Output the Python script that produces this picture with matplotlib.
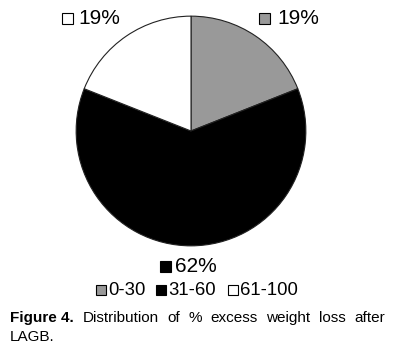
import matplotlib
matplotlib.use("Agg")
import matplotlib.pyplot as plt
from matplotlib.patches import Rectangle

categories = ["0-30", "31-60", "61-100"]
values = [19, 62, 19]
colors = ["#999999", "#000000", "#ffffff"]
pct_labels = ["19%", "62%", "19%"]
caption_line1 = ["Figure 4.", "Distribution", "of", "%", "excess", "weight", "loss", "after"]
caption_line2 = "LAGB."

W, H = 397, 354
fig = plt.figure(figsize=(W / 100, H / 100), dpi=100)
fig.patch.set_facecolor("white")

cx, cy, r = 191, 131, 116
ax = fig.add_axes([(cx - r) / W, (H - cy - r) / H, 2 * r / W, 2 * r / H])
ax.pie(values, colors=colors, startangle=90, counterclock=False,
       wedgeprops=dict(edgecolor="#222222", linewidth=0.8))
ax.set_xlim(-1.01, 1.01)
ax.set_ylim(-1.01, 1.01)
ax.set_aspect("equal")
ax.axis("off")

ov = fig.add_axes([0, 0, 1, 1], facecolor="none")
ov.set_xlim(0, W)
ov.set_ylim(H, 0)
ov.axis("off")

font = "Liberation Sans"

def sq(x, y, s, color):
    ov.add_patch(Rectangle((x, y), s, s, facecolor=color, edgecolor="black", linewidth=0.8))

# data labels
label_pos = [(259, 13, 277), (160, 261, 175), (62, 13, 78)]
for (sx, sy, tx), c, lab in zip(label_pos, colors, pct_labels):
    sq(sx, sy, 11, c)
    ov.text(tx, sy + 5.5, lab, fontsize=15, family=font, va="center", ha="left")

# legend
leg_pos = [(96, 108), (156, 168), (228, 240)]
for (sx, tx), c, lab in zip(leg_pos, colors, categories):
    sq(sx, 285, 10, c)
    ov.text(tx, 290.5, lab, fontsize=13.3, family=font, va="center", ha="left")

# caption (justified first line)
fig.canvas.draw()
renderer = fig.canvas.get_renderer()
txts = []
for i, w in enumerate(caption_line1):
    t = ov.text(0, 318, w, fontsize=11, family=font, weight="bold" if i == 0 else "normal",
                va="center", ha="left")
    txts.append(t)
widths = [t.get_window_extent(renderer).width for t in txts]
x0, x1 = 10, 385
gap = (x1 - x0 - sum(widths)) / (len(widths) - 1)
x = x0
for t, wd in zip(txts, widths):
    t.set_x(x)
    x += wd + gap
ov.text(10, 337, caption_line2, fontsize=11, family=font, va="center", ha="left")

fig.savefig("out.png", dpi=100)
